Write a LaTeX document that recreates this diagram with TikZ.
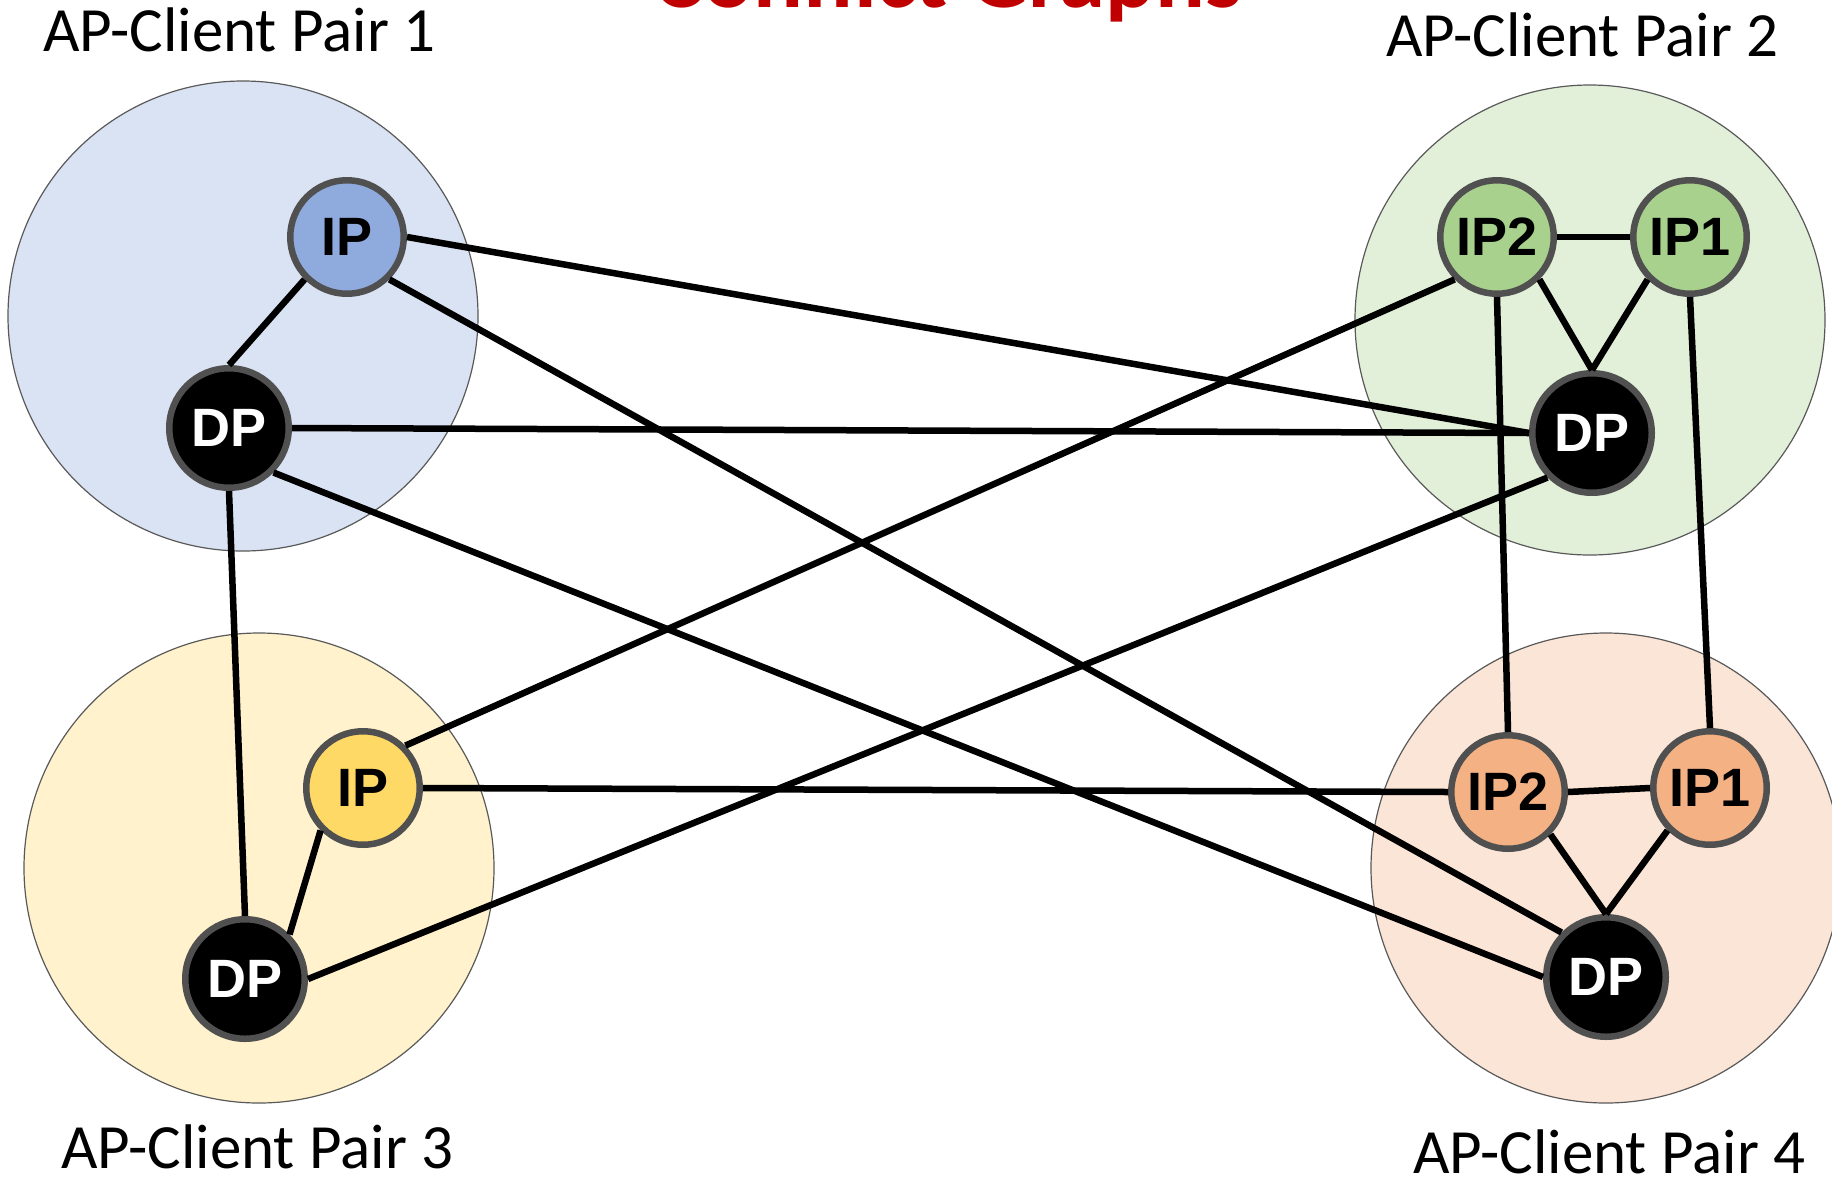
\documentclass[tikz,border=0pt]{standalone}
\usepackage{fontspec}
\setmainfont{Carlito}
\newfontfamily\nodefont{Liberation Sans}

\definecolor{ringgray}{HTML}{595959}
\definecolor{nodegray}{HTML}{505050}
\definecolor{titlered}{HTML}{C00000}
\definecolor{blueback}{HTML}{DAE3F3}
\definecolor{greenback}{HTML}{E2F0D9}
\definecolor{yellowback}{HTML}{FFF2CC}
\definecolor{orangeback}{HTML}{FBE5D6}
\definecolor{bluenode}{HTML}{8FAADC}
\definecolor{greennode}{HTML}{A9D18E}
\definecolor{yellownode}{HTML}{FFD966}
\definecolor{orangenode}{HTML}{F4B183}

\tikzset{
  pairdisc/.style={circle, draw=ringgray, line width=1.2pt, minimum size=470pt, inner sep=0pt},
  ipnode/.style={circle, draw=nodegray, line width=6.5pt, minimum size=113.5pt, inner sep=0pt,
    font=\nodefont\fontsize{54}{54}\selectfont\bfseries, text=black},
  dpnode/.style={circle, draw=nodegray, line width=6.5pt, minimum size=119.5pt, inner sep=0pt,
    fill=black, font=\nodefont\fontsize{54}{54}\selectfont\bfseries, text=white},
  pairlabel/.style={anchor=base west, inner sep=0pt, font=\fontsize{63}{63}\selectfont},
  edge/.style={line width=6.5pt, black}
}

\begin{document}
\begin{tikzpicture}[x=1pt, y=-1pt]
\path[use as bounding box] (0,0) rectangle (1832,1179);

% pair discs
\node[pairdisc, fill=blueback]   (disc1) at (243,316) {};
\node[pairdisc, fill=greenback]  (disc2) at (1590,320) {};
\node[pairdisc, fill=yellowback] (disc3) at (259,868) {};
\node[pairdisc, fill=orangeback] (disc4) at (1606,868) {};

% title and pair labels
\node[anchor=base, inner sep=0pt, text=titlered, font=\fontsize{93}{93}\selectfont\bfseries]
  (title) at (948,7) {Conflict Graphs};
\node[pairlabel] (lab1) at (43,51.7) {AP-Client Pair 1};
\node[pairlabel] (lab2) at (1386,56) {AP-Client Pair 2};
\node[pairlabel] (lab3) at (61,1168) {AP-Client Pair 3};
\node[pairlabel] (lab4) at (1413,1173) {AP-Client Pair 4};

% pair 1
\node[ipnode, fill=bluenode] (ipA) at (347,237) {IP};
\node[dpnode] (dpA) at (229,428) {DP};
% pair 2
\node[ipnode, fill=greennode] (ipBtwo) at (1497,237) {IP2};
\node[ipnode, fill=greennode] (ipBone) at (1690,237) {IP1};
\node[dpnode] (dpB) at (1592,433) {DP};
% pair 3
\node[ipnode, fill=yellownode] (ipC) at (363,788) {IP};
\node[dpnode] (dpC) at (245,979) {DP};
% pair 4
\node[ipnode, fill=orangenode] (ipDtwo) at (1508,792) {IP2};
\node[ipnode, fill=orangenode] (ipDone) at (1710,788) {IP1};
\node[dpnode] (dpD) at (1606,977) {DP};

% conflict edges, attached at the nodes' compass points
\draw[edge] (ipA.south west) -- (dpA.north);
\draw[edge] (ipA.east) -- (dpB.west);
\draw[edge] (ipA.south east) -- (dpD.north west);
\draw[edge] (dpA.east) -- (dpB.west);
\draw[edge] (dpA.south east) -- (dpD.west);
\draw[edge] (dpA.south) -- (dpC.north);
\draw[edge] (ipC.north east) -- (ipBtwo.south west);
\draw[edge] (ipC.east) -- (ipDtwo.west);
\draw[edge] (ipC.south west) -- (dpC.north east);
\draw[edge] (dpC.east) -- (dpB.south west);
\draw[edge] (ipBtwo.east) -- (ipBone.west);
\draw[edge] (ipBtwo.south east) -- (dpB.north);
\draw[edge] (ipBone.south west) -- (dpB.north);
\draw[edge] (ipBtwo.south) -- (ipDtwo.north);
\draw[edge] (ipBone.south) -- (ipDone.north);
\draw[edge] (ipDtwo.east) -- (ipDone.west);
\draw[edge] (ipDtwo.south east) -- (dpD.north);
\draw[edge] (ipDone.south west) -- (dpD.north);
\end{tikzpicture}
\end{document}
